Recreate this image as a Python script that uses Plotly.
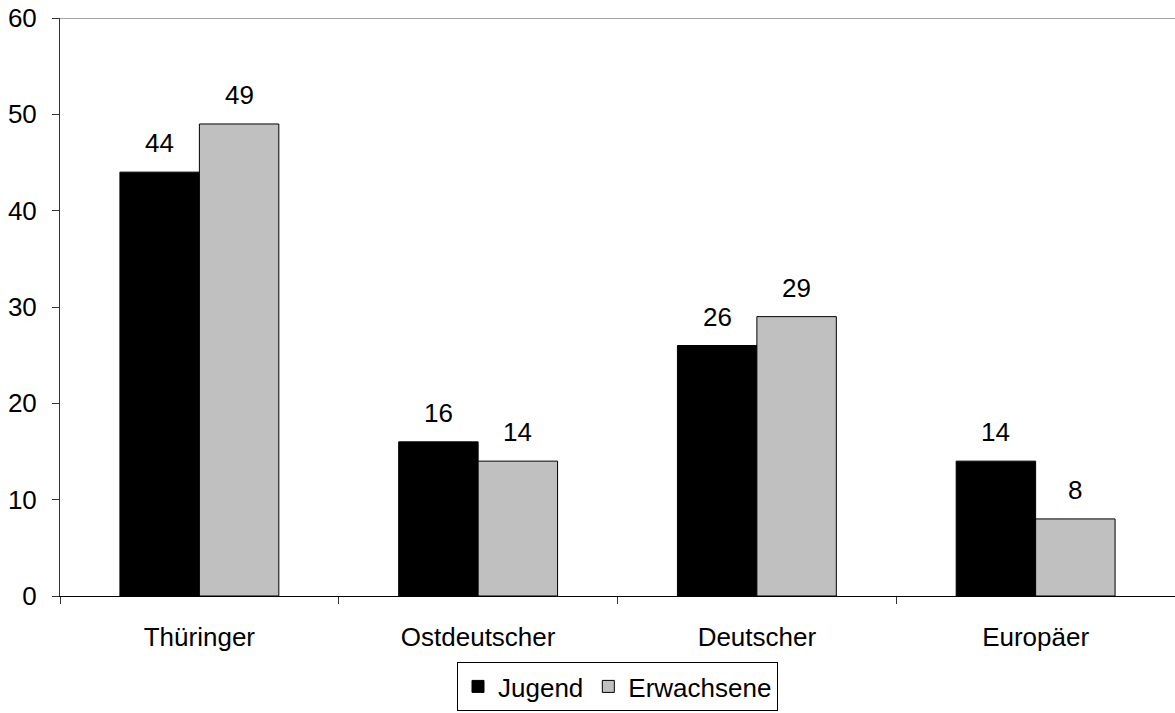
import plotly.graph_objects as go

categories = ["Thüringer", "Ostdeutscher", "Deutscher", "Europäer"]
jugend = [44, 16, 26, 14]
erwachsene = [49, 14, 29, 8]
y_ticks = [0, 10, 20, 30, 40, 50, 60]

FS = 26
font = dict(family="Liberation Sans, Arial, sans-serif", size=FS, color="black")
BARGAP = 0.43

fig = go.Figure()
series = [("Jugend", jugend, "black"), ("Erwachsene", erwachsene, "#c0c0c0")]
for name, vals, col in series:
    fig.add_trace(go.Bar(
        x=categories, y=vals, name=name,
        marker=dict(color=col, line=dict(color="black", width=1)),
    ))

# value labels above bars
bw = (1 - BARGAP) / len(series)
annotations = []
for si, (name, vals, col) in enumerate(series):
    off = (si - (len(series) - 1) / 2) * bw
    for ci, v in enumerate(vals):
        annotations.append(dict(
            x=ci + off, y=v, xref="x", yref="y", text=str(v), showarrow=False,
            yanchor="bottom", yshift=12, font=font,
        ))

fig.update_layout(
    width=1175, height=713,
    margin=dict(l=60, r=0, t=18, b=117, autoexpand=False),
    paper_bgcolor="white", plot_bgcolor="white",
    barmode="group", bargap=BARGAP, bargroupgap=0,
    font=font,
    showlegend=True,
    legend=dict(
        orientation="h", x=0.5, xanchor="center", y=-115 / 578, yanchor="bottom",
        bordercolor="black", borderwidth=1, font=font,
        itemwidth=30, tracegroupgap=0,
    ),
    xaxis=dict(
        type="category", tickson="boundaries", ticks="outside", ticklen=7,
        tickcolor="#333", showline=True, linecolor="black", linewidth=1,
        showgrid=False, tickfont=font, automargin=False, ticklabelstandoff=18,
    ),
    yaxis=dict(
        range=[0, 60], tickvals=y_ticks, ticks="outside", ticklen=7,
        tickcolor="#333", showline=True, linecolor="#333", linewidth=1,
        showgrid=False, zeroline=False, tickfont=font, automargin=False,
        ticklabelstandoff=10, ticklabeloverflow="allow",
    ),
    annotations=annotations,
    shapes=[dict(type="line", xref="paper", x0=0, x1=1, yref="y", y0=60, y1=60,
                 line=dict(color="#888", width=1.5))],
)

fig.write_html(
    "out.html",
    config={"displayModeBar": False},
    post_script="document.body.style.margin='0';document.body.style.overflow='hidden';",
)
